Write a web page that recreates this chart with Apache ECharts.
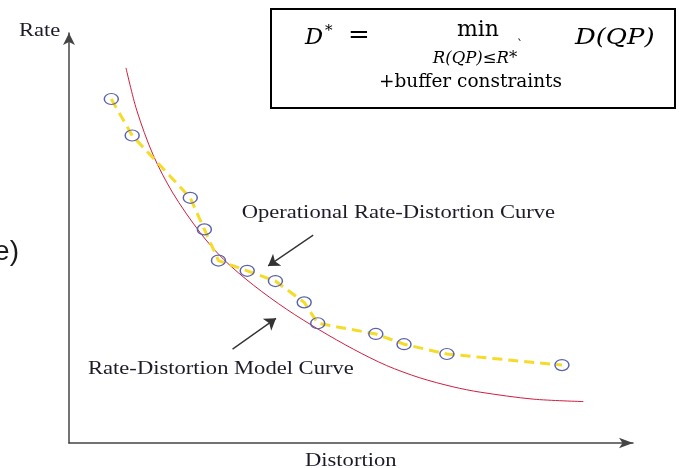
<!DOCTYPE html>
<html>
<head>
<meta charset="utf-8">
<script src="https://cdn.jsdelivr.net/npm/echarts@6/dist/echarts.min.js"></script>
<style>
html,body{margin:0;padding:0;background:#fff;}
#c{width:679px;height:468px;}
</style>
</head>
<body>
<div id="c"></div>
<script>
// Operational R-D points (distortion, rate) in arbitrary units 0..100
const opDistortion = [7.5, 11.2, 21.5, 24.0, 26.5, 31.6, 36.6, 41.7, 44.1, 54.4, 59.4, 67.0, 87.4];
const opRate       = [83.9, 75.0, 59.8, 52.1, 44.5, 42.0, 39.5, 34.3, 29.2, 26.6, 24.1, 21.7, 19.0];
// R-D model curve samples
const modelDistortion = [10.1, 12.0, 14.9, 18.4, 23.2, 27.4, 32.7, 38.6, 44.5, 50.4, 56.3, 62.2, 68.1, 72.9, 82.3, 91.2];
const modelRate       = [91.5, 81.2, 70.3, 61.0, 51.4, 44.8, 38.5, 32.6, 27.5, 22.9, 18.9, 15.9, 13.7, 12.4, 10.7, 10.1];
// annotation arrows (from -> to) in data units
const arrowFrom = [[43.3, 50.7], [29.0, 22.9]];
const arrowTo   = [[35.3, 43.2], [36.7, 30.4]];
const labels = ['Operational Rate-Distortion Curve', 'Rate-Distortion Model Curve'];
const xName = 'Distortion';
const yName = 'Rate';

const chart = echarts.init(document.getElementById('c'));
const serif = '"Liberation Serif", "Times New Roman", serif';
const math = '"DejaVu Serif", serif';
const txtColor = '#1c1c28';
const SX = 1.22;

function txt(x, y, text, size, opts) {
  opts = opts || {};
  return {
    type: 'text', x: x, y: y, z: 100,
    scaleX: opts.scaleX || 1,
    style: {
      text: text,
      fontFamily: opts.family || serif,
      fontSize: size,
      fontStyle: opts.italic ? 'italic' : 'normal',
      fill: opts.color || txtColor,
      textAlign: opts.align || 'left',
      textVerticalAlign: 'middle',
      verticalAlign: 'middle'
    }
  };
}

const option = {
  animation: false,
  backgroundColor: '#fff',
  grid: { left: 69, right: 46, top: 33, bottom: 25, containLabel: false },
  xAxis: {
    type: 'value', min: 0, max: 100,
    axisLine: { show: true, symbol: ['none', 'arrow'], symbolSize: [8, 14], lineStyle: { color: '#444', width: 1.5 } },
    axisTick: { show: false }, axisLabel: { show: false }, splitLine: { show: false }
  },
  yAxis: {
    type: 'value', min: 0, max: 100,
    axisLine: { show: true, symbol: ['none', 'arrow'], symbolSize: [9, 12], lineStyle: { color: '#444', width: 1.5 } },
    axisTick: { show: false }, axisLabel: { show: false }, splitLine: { show: false }
  },
  series: [
    {
      type: 'line',
      data: modelDistortion.map((d, i) => [d, modelRate[i]]),
      smooth: 0.3,
      showSymbol: false,
      lineStyle: { color: '#cf1f3f', width: 1 },
      z: 2
    },
    {
      type: 'line',
      data: opDistortion.map((d, i) => [d, opRate[i]]),
      lineStyle: { color: '#f4dc28', width: 3, type: [10, 6] },
      symbol: 'circle',
      symbolSize: [14, 11],
      itemStyle: { color: 'rgba(0,0,0,0)', borderColor: '#5a62ab', borderWidth: 1.3 },
      z: 3
    },
    {
      type: 'lines',
      coordinateSystem: 'cartesian2d',
      data: arrowFrom.map((f, i) => ({ coords: [f, arrowTo[i]] })),
      symbol: ['none', 'arrow'],
      symbolSize: 11,
      lineStyle: { color: '#333', width: 1.3, curveness: 0, opacity: 1 },
      z: 4
    }
  ],
  graphic: [
    txt(19, 31, yName, 18.5, { scaleX: SX }),
    txt(305, 461.5, xName, 18.5, { scaleX: SX }),
    txt(241.7, 213, labels[0], 18.5, { scaleX: SX }),
    txt(88, 369, labels[1], 18.5, { scaleX: SX }),
    txt(19, 252.7, 'e)', 28, { family: '"Liberation Sans", Arial, sans-serif', align: 'right', color: '#1a1a1a' }),
    {
      type: 'rect', z: 90,
      shape: { x: 271, y: 9, width: 404, height: 99 },
      style: { fill: '#fff', stroke: '#000', lineWidth: 2 }
    },
    txt(305, 38.1, 'D', 22.5, { family: math, italic: true, color: '#000' }),
    txt(325, 31, '*', 15, { family: math, color: '#000' }),
    txt(359, 36.5, '=', 26, { family: math, color: '#000', align: 'center' }),
    txt(478, 30, 'min', 22, { family: math, color: '#000', align: 'center' }),
    txt(520, 46, '`', 12, { family: math, color: '#000', align: 'center' }),
    txt(575, 38, 'D(QP)', 22.5, { family: math, italic: true, color: '#000', scaleX: 1.15 }),
    txt(475, 58.3, 'R(QP)≤R*', 16.5, { family: math, italic: true, color: '#000', align: 'center' }),
    txt(470.5, 82.4, '+buffer constraints', 18.5, { family: math, color: '#000', align: 'center' })
  ]
};
chart.setOption(option);
</script>
</body>
</html>
